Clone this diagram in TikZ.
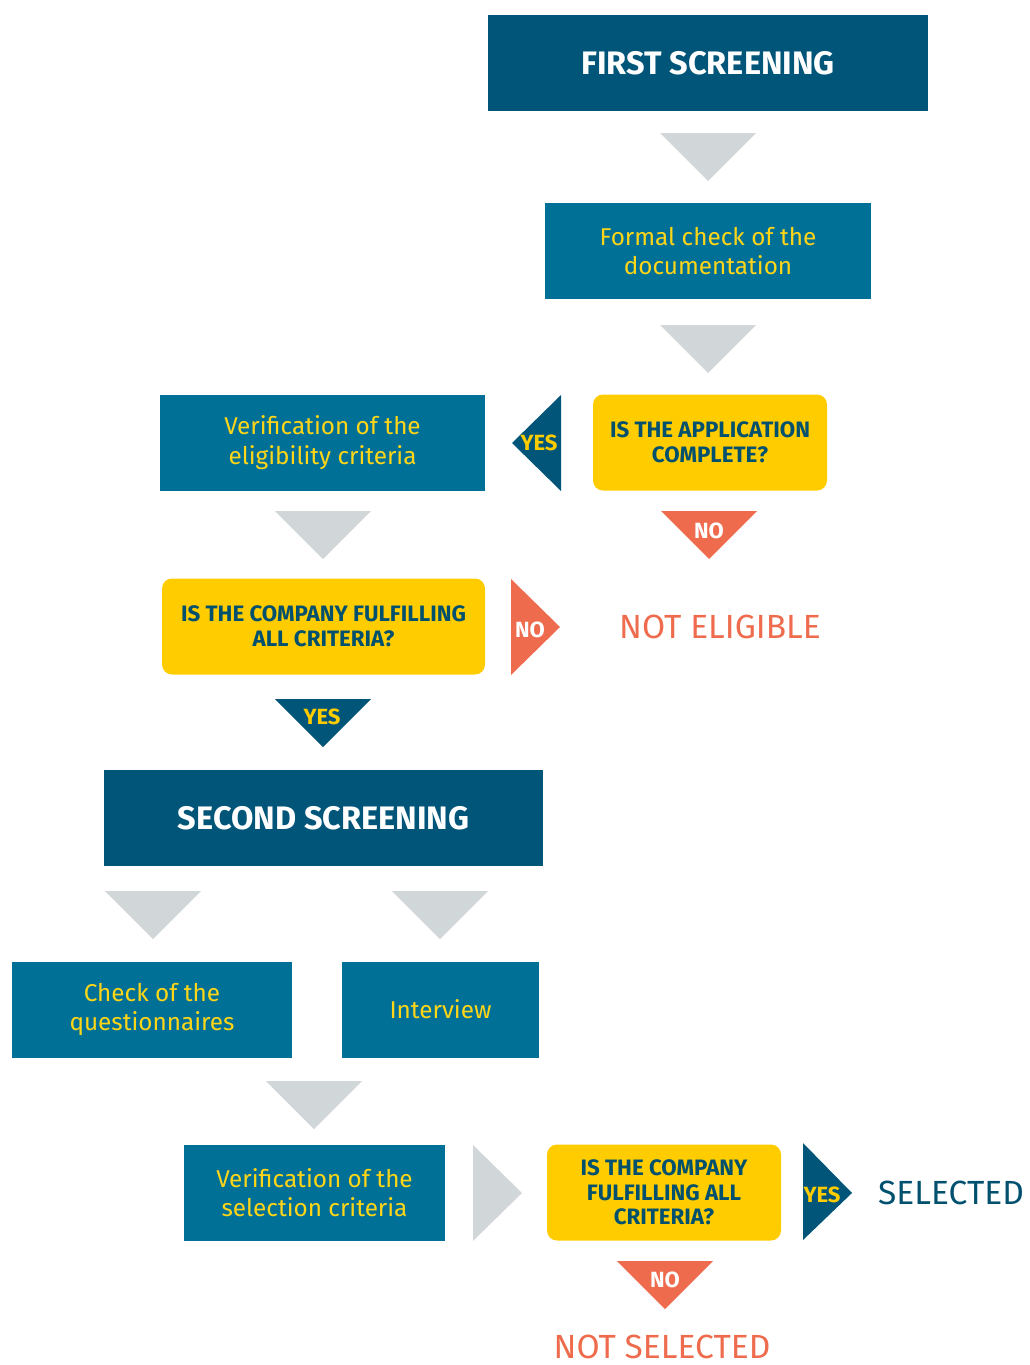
\documentclass[tikz,border=0pt]{standalone}
\usepackage{fontspec}
\setmainfont{Fira Sans}
\definecolor{navy}{HTML}{005578}
\definecolor{teal}{HTML}{007096}
\definecolor{qyellow}{HTML}{FFCC00}
\definecolor{tyellow}{HTML}{FFD617}
\definecolor{qtext}{HTML}{00506E}
\definecolor{arrgray}{HTML}{D1D7D9}
\definecolor{orng}{HTML}{EE6C4D}
\begin{document}
\begin{tikzpicture}[x=1pt,y=-1pt,
  headbox/.style={fill=navy,text=white,inner sep=0pt,font=\bfseries\fontsize{32.5}{36}\selectfont},
  stepbox/.style={fill=teal,text=tyellow,inner sep=0pt,align=center,font=\fontsize{24.3}{29.5}\selectfont},
  qbox/.style={fill=qyellow,text=qtext,inner sep=0pt,rounded corners=10pt,align=center,font=\bfseries\fontsize{22.3}{24.5}\selectfont},
  trilabel/.style={inner sep=0pt,font=\bfseries\fontsize{22}{24}\selectfont},
  outcome/.style={inner sep=0pt,font=\fontsize{33.5}{36}\selectfont}]
\useasboundingbox (0,0) rectangle (1029,1365);
% boxes
\node[headbox,minimum width=440pt,minimum height=96pt] (fs) at (708,63) {FIRST SCREENING};
\node[stepbox,minimum width=326pt,minimum height=96pt] (formal) at (708,251) {Formal check of the\\documentation};
\node[qbox,minimum width=234pt,minimum height=96pt] (q1) at (710,442.5) {IS THE APPLICATION\\COMPLETE?};
\node[stepbox,minimum width=325pt,minimum height=96pt] (elig) at (322.5,442.5) {Verification of the\\eligibility criteria};
\node[qbox,minimum width=323pt,minimum height=96pt] (q2) at (323.5,626.5) {IS THE COMPANY FULFILLING\\ALL CRITERIA?};
\node[outcome,text=orng] (ne) at (720,627) {NOT ELIGIBLE};
\node[headbox,minimum width=439pt,minimum height=96pt] (ss) at (323.5,818) {SECOND SCREENING};
\node[stepbox,minimum width=280pt,minimum height=96pt] (quest) at (152,1009.5) {Check of the\\questionnaires};
\node[stepbox,minimum width=197pt,minimum height=96pt] (intv) at (440.5,1009.5) {Interview};
\node[stepbox,minimum width=261pt,minimum height=96pt] (sel) at (314.5,1192.5) {Verification of the\\selection criteria};
\node[qbox,minimum width=234pt,minimum height=96pt] (q3) at (664,1192.5) {IS THE COMPANY\\FULFILLING ALL\\CRITERIA?};
\node[outcome,text=qtext,anchor=west] (selected) at (878,1193) {SELECTED};
\node[outcome,text=orng] (nsel) at (662,1347) {NOT SELECTED};
% gray connector triangles
\fill[arrgray] (660,133) -- (756,133) -- (708,181) -- cycle;
\fill[arrgray] (660,325) -- (756,325) -- (708,373) -- cycle;
\fill[arrgray] (275,511) -- (371,511) -- (323,559) -- cycle;
\fill[arrgray] (105,891) -- (201,891) -- (153,939) -- cycle;
\fill[arrgray] (392,891) -- (488,891) -- (440,939) -- cycle;
\fill[arrgray] (266,1081) -- (362,1081) -- (314,1129) -- cycle;
\fill[arrgray] (473,1145) -- (473,1241) -- (522,1193) -- cycle;
% decision triangles
\fill[navy] (561,395) -- (561,491) -- (512,443) -- cycle;
\node[trilabel,text=qyellow] (y1) at (539,443) {YES};
\fill[orng] (661,511) -- (757,511) -- (709,559) -- cycle;
\node[trilabel,text=white] (n1) at (709,531) {NO};
\fill[orng] (511,579) -- (511,675) -- (560,627) -- cycle;
\node[trilabel,text=white] (n2) at (530,630) {NO};
\fill[navy] (275,699) -- (371,699) -- (323,747) -- cycle;
\node[trilabel,text=qyellow] (y2) at (322,717) {YES};
\fill[navy] (803,1143) -- (803,1240) -- (852,1193) -- cycle;
\node[trilabel,text=qyellow] (y3) at (822,1195) {YES};
\fill[orng] (617,1261) -- (713,1261) -- (665,1309) -- cycle;
\node[trilabel,text=white] (n3) at (665,1280) {NO};
\end{tikzpicture}
\end{document}
